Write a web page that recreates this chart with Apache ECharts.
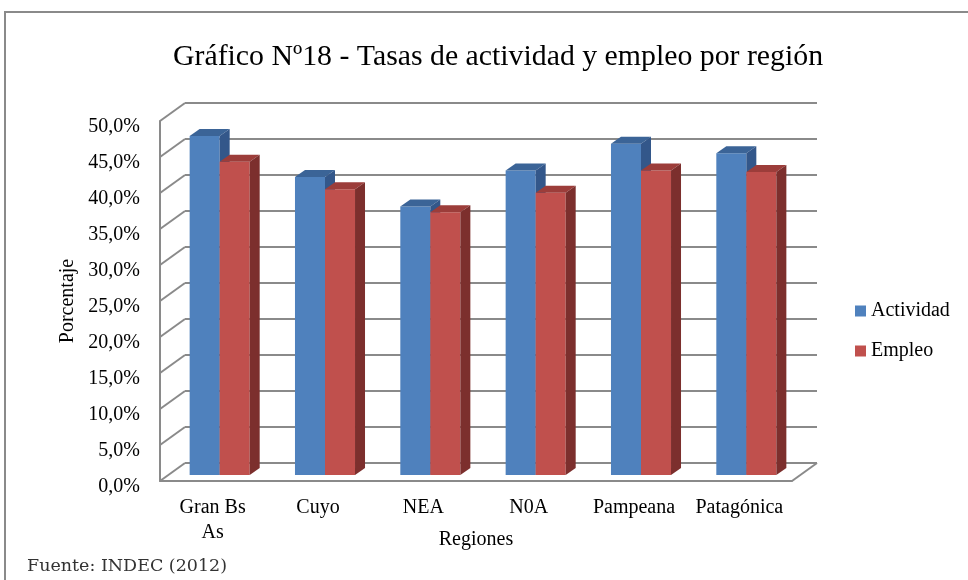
<!DOCTYPE html>
<html><head><meta charset="utf-8">
<script src="https://cdn.jsdelivr.net/npm/echarts@6/dist/echarts.min.js"></script>
<style>html,body{margin:0;padding:0;background:#fff}#c{width:968px;height:580px}</style>
</head><body><div id="c"></div>
<script>
// ---- data ----
const categories = ['Gran Bs\nAs', 'Cuyo', 'NEA', 'N0A', 'Pampeana', 'Patagónica'];
const actividad = [47.1, 41.4, 37.3, 42.3, 46.0, 44.7];
const empleo = [43.5, 39.7, 36.5, 39.2, 42.3, 42.1];
const yTicks = [0, 5, 10, 15, 20, 25, 30, 35, 40, 45, 50];
const seriesNames = ['Actividad', 'Empleo'];

// ---- layout / style ----
const FONT = 'Liberation Serif';
const FRONT = {left: 160, right: 176, top: 121, bottom: 99};
const DEPTH = {dx: 25, dy: 18};
const BAR_OFF = {dx: 7, dy: 6};
const BAR_DEPTH = {dx: 10, dy: 7};
const BAR_FRAC = 0.285;
const GRID_COLOR = '#8a8a8a';
const PAL = [
  {front: '#4F81BD', top: '#3B6497', side: '#33578A'},
  {front: '#C0504D', top: '#9C3D3A', side: '#7C2F2D'}
];

function barRenderer(slot, pal) {
  return function (params, api) {
    const c = api.value(0), v = api.value(1);
    const p0 = api.coord([c, 0]), p1 = api.coord([c, v]);
    const band = api.size([1, 0])[0];
    const bw = band * BAR_FRAC;
    const xL = p0[0] - bw + slot * bw + BAR_OFF.dx;
    const yB = p0[1] - BAR_OFF.dy, yT = p1[1] - BAR_OFF.dy;
    const dx = BAR_DEPTH.dx, dy = BAR_DEPTH.dy;
    return {type: 'group', children: [
      {type: 'rect', shape: {x: xL, y: yT, width: bw, height: yB - yT}, style: {fill: pal.front}},
      {type: 'polygon', shape: {points: [[xL, yT], [xL + bw, yT], [xL + bw + dx, yT - dy], [xL + dx, yT - dy]]}, style: {fill: pal.top}},
      {type: 'polygon', shape: {points: [[xL + bw, yT], [xL + bw + dx, yT - dy], [xL + bw + dx, yB - dy], [xL + bw, yB]]}, style: {fill: pal.side}}
    ]};
  };
}

const pct = v => v.toFixed(1).replace('.', ',') + '%';

const option = {
  backgroundColor: '#fff',
  animation: false,
  title: {
    text: 'Gráfico Nº18 - Tasas de actividad y empleo por región',
    left: 168, top: 37,
    textStyle: {fontFamily: FONT, fontSize: 29.8, fontWeight: 'normal', color: '#000'}
  },
  legend: {
    data: seriesNames, orient: 'vertical', left: 850, top: 296,
    icon: 'rect', itemWidth: 11, itemHeight: 11, itemGap: 20,
    textStyle: {fontFamily: FONT, fontSize: 20, color: '#000'}
  },
  graphic: [
    {type: 'rect', shape: {x: 5, y: 12, width: 1000, height: 620}, style: {fill: 'none', stroke: '#8a8a8a', lineWidth: 2}, silent: true, z: -10},
    {type: 'text', left: 27, top: 557, style: {text: 'Fuente: INDEC (2012)', fontFamily: 'DejaVu Serif', fontSize: 17.5, fill: '#333'}}
  ],
  grid: [
    {left: FRONT.left, right: FRONT.right, top: FRONT.top, bottom: FRONT.bottom},
    {left: FRONT.left + DEPTH.dx, right: FRONT.right - DEPTH.dx, top: FRONT.top - DEPTH.dy, bottom: FRONT.bottom + DEPTH.dy}
  ],
  xAxis: [
    {type: 'category', gridIndex: 0, data: categories,
     name: 'Regiones', nameLocation: 'middle', nameGap: 49, nameMoveOverlap: false,
     nameTextStyle: {fontFamily: FONT, fontSize: 20, color: '#000'},
     axisLine: {show: true, lineStyle: {color: GRID_COLOR, width: 2}},
     axisTick: {show: false},
     axisLabel: {fontFamily: FONT, fontSize: 20, color: '#000', margin: 14, lineHeight: 25, interval: 0},
     splitLine: {show: false}},
    {type: 'category', gridIndex: 1, data: categories, show: false}
  ],
  yAxis: [
    {type: 'value', gridIndex: 0, min: 0, max: 50, interval: 5,
     name: 'Porcentaje', nameLocation: 'middle', nameGap: 82, nameMoveOverlap: false,
     nameTextStyle: {fontFamily: FONT, fontSize: 20, color: '#000'},
     axisLine: {show: true, lineStyle: {color: GRID_COLOR, width: 2}},
     axisTick: {show: false},
     axisLabel: {fontFamily: FONT, fontSize: 20, color: '#000', margin: 20, formatter: pct, verticalAlign: 'top', lineHeight: 12},
     splitLine: {show: false}},
    {type: 'value', gridIndex: 1, min: 0, max: 50, interval: 5,
     axisLine: {show: false}, axisTick: {show: false}, axisLabel: {show: false},
     splitLine: {show: true, lineStyle: {color: GRID_COLOR, width: 2}}}
  ],
  series: [
    {type: 'custom', name: '_frame', xAxisIndex: 0, yAxisIndex: 0, z: 1, silent: true,
     data: yTicks.map(v => [0, v]),
     renderItem: function (params, api) {
       const cs = params.coordSys;
       const v = api.value(1);
       const y = api.coord([0, v])[1];
       const st = {stroke: GRID_COLOR, lineWidth: 2};
       const ch = [{type: 'line', shape: {x1: cs.x, y1: y, x2: cs.x + DEPTH.dx, y2: y - DEPTH.dy}, style: st}];
       if (v === 0) ch.push({type: 'line', shape: {x1: cs.x + cs.width, y1: y, x2: cs.x + cs.width + DEPTH.dx, y2: y - DEPTH.dy}, style: st});
       return {type: 'group', children: ch};
     }},
    {type: 'custom', name: seriesNames[0], xAxisIndex: 0, yAxisIndex: 0, z: 3,
     itemStyle: {color: PAL[0].front},
     data: categories.map((c, i) => [i, actividad[i]]),
     encode: {x: 0, y: 1},
     renderItem: barRenderer(0, PAL[0])},
    {type: 'custom', name: seriesNames[1], xAxisIndex: 0, yAxisIndex: 0, z: 4,
     itemStyle: {color: PAL[1].front},
     data: categories.map((c, i) => [i, empleo[i]]),
     encode: {x: 0, y: 1},
     renderItem: barRenderer(1, PAL[1])}
  ]
};

const chart = echarts.init(document.getElementById('c'), null, {renderer: 'canvas'});
chart.setOption(option);
</script>
</body></html>
